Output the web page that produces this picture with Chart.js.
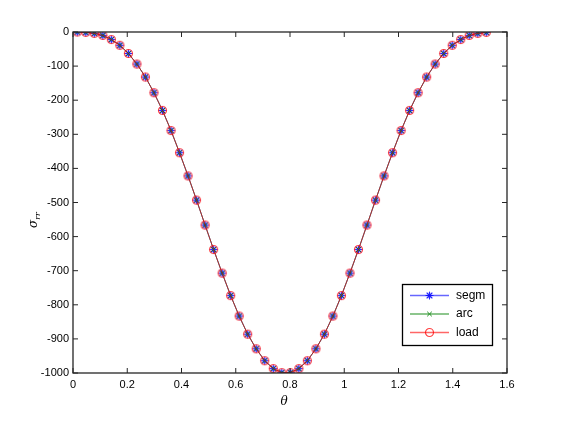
<!DOCTYPE html>
<html>
<head>
<meta charset="utf-8">
<script src="https://cdn.jsdelivr.net/npm/chart.js@4.4.0/dist/chart.umd.min.js"></script>
<style>
  html, body { margin: 0; padding: 0; background: #ffffff; }
  #c { display: block; }
</style>
</head>
<body>
<canvas id="c" width="561" height="429"></canvas>
<script>
// ---- data ----
const thetaValues = [0.0157, 0.0471, 0.0785, 0.1100, 0.1414, 0.1728, 0.2042, 0.2356, 0.2670, 0.2985,
  0.3299, 0.3613, 0.3927, 0.4241, 0.4555, 0.4869, 0.5184, 0.5498, 0.5812, 0.6126,
  0.6440, 0.6754, 0.7069, 0.7383, 0.7697, 0.8011, 0.8325, 0.8639, 0.8954, 0.9268,
  0.9582, 0.9896, 1.0210, 1.0524, 1.0838, 1.1153, 1.1467, 1.1781, 1.2095, 1.2409,
  1.2723, 1.3038, 1.3352, 1.3666, 1.3980, 1.4294, 1.4608, 1.4923, 1.5237];

const segmValues = [0, -1, -4, -10, -22, -39, -63, -94, -132, -178,
  -230, -289, -354, -422, -493, -566, -638, -707, -773, -833,
  -886, -929, -964, -987, -999, -999, -987, -964, -929, -886,
  -833, -773, -707, -638, -566, -493, -422, -354, -289, -230,
  -178, -132, -94, -63, -39, -22, -10, -4, -1];

const arcValues = [0, -1, -4, -10, -22, -39, -63, -94, -132, -178,
  -230, -289, -354, -422, -493, -566, -638, -707, -773, -833,
  -886, -929, -964, -987, -999, -999, -987, -964, -929, -886,
  -833, -773, -707, -638, -566, -493, -422, -354, -289, -230,
  -178, -132, -94, -63, -39, -22, -10, -4, -1];

const loadValues = [0, -1, -4, -10, -22, -39, -63, -94, -132, -178,
  -230, -289, -354, -422, -493, -566, -638, -707, -773, -833,
  -886, -929, -964, -987, -999, -999, -987, -964, -929, -886,
  -833, -773, -707, -638, -566, -493, -422, -354, -289, -230,
  -178, -132, -94, -63, -39, -22, -10, -4, -1];

const seriesNames = ['segm', 'arc', 'load'];
const xTickValues = [0, 0.2, 0.4, 0.6, 0.8, 1.0, 1.2, 1.4, 1.6];
const yTickValues = [-1000, -900, -800, -700, -600, -500, -400, -300, -200, -100, 0];

// ---- build ----
function pts(vals) { return thetaValues.map((t, i) => ({ x: t, y: vals[i] })); }

const FONT = '"Liberation Sans", Arial, Helvetica, sans-serif';

// pre-rendered marker glyphs
function marker(kind) {
  const S = 13, c = document.createElement('canvas');
  c.width = S; c.height = S;
  const g = c.getContext('2d');
  const m = S / 2;
  g.lineCap = 'round';
  if (kind === 'segm') {
    g.strokeStyle = 'rgba(0,0,255,0.85)'; g.lineWidth = 1.2;
    const r = 3.5;
    g.beginPath();
    for (let k = 0; k < 4; k++) {
      const ang = k * Math.PI / 4;
      g.moveTo(m - r * Math.cos(ang), m - r * Math.sin(ang));
      g.lineTo(m + r * Math.cos(ang), m + r * Math.sin(ang));
    }
    g.stroke();
  } else if (kind === 'arc') {
    g.strokeStyle = 'rgba(0,128,0,0.9)'; g.lineWidth = 1;
    const r = 2;
    g.beginPath();
    g.moveTo(m - r, m - r); g.lineTo(m + r, m + r);
    g.moveTo(m - r, m + r); g.lineTo(m + r, m - r);
    g.stroke();
  } else {
    g.strokeStyle = 'rgba(255,0,0,0.75)'; g.lineWidth = 1.2;
    g.beginPath();
    g.arc(m, m, 4, 0, Math.PI * 2);
    g.stroke();
  }
  return c;
}

const lineColors = { segm: 'rgba(0,0,255,0.6)', arc: 'rgba(0,128,0,0.6)', load: 'rgba(255,0,0,0.6)' };
const valuesByName = { segm: segmValues, arc: arcValues, load: loadValues };
const markers = { segm: marker('segm'), arc: marker('arc'), load: marker('load') };

function makeDataset(name) {
  return {
    label: name, data: pts(valuesByName[name]),
    borderColor: lineColors[name], borderWidth: 1, tension: 0,
    pointStyle: markers[name], pointRadius: 4, pointHoverRadius: 4
  };
}

const frameAndLegend = {
  id: 'frameAndLegend',
  afterDraw(chart) {
    const ctx = chart.ctx;
    const a = chart.chartArea;
    const xs = chart.scales.x, ys = chart.scales.y;
    ctx.save();
    ctx.strokeStyle = '#262626';
    ctx.lineWidth = 1.3;
    ctx.strokeRect(a.left, a.top, a.right - a.left, a.bottom - a.top);
    ctx.lineWidth = 1;
    ctx.beginPath();
    const tl = 5;
    xTickValues.forEach(v => {
      const px = xs.getPixelForValue(v);
      ctx.moveTo(px, a.bottom); ctx.lineTo(px, a.bottom - tl);
      ctx.moveTo(px, a.top); ctx.lineTo(px, a.top + tl);
    });
    yTickValues.forEach(v => {
      const py = ys.getPixelForValue(v);
      ctx.moveTo(a.left, py); ctx.lineTo(a.left + tl, py);
      ctx.moveTo(a.right, py); ctx.lineTo(a.right - tl, py);
    });
    ctx.stroke();

    ctx.fillStyle = '#000';
    ctx.textAlign = 'center';
    ctx.textBaseline = 'middle';
    ctx.font = 'italic 12px "DejaVu Serif", serif';
    ctx.fillText('\u03B8', 284, 402);

    ctx.save();
    ctx.translate(37, 228);
    ctx.rotate(-Math.PI / 2);
    ctx.textAlign = 'left';
    ctx.textBaseline = 'alphabetic';
    ctx.font = 'italic 12px "DejaVu Serif", serif';
    ctx.fillText('\u03C3', 0, 0);
    const w = ctx.measureText('\u03C3').width;
    ctx.font = 'italic 8px "DejaVu Serif", serif';
    ctx.fillText('rr', w, 2.5);
    ctx.restore();

    const bx = 402.5, by = 284.5, bw = 90, bh = 61;
    ctx.fillStyle = '#fff';
    ctx.fillRect(bx, by, bw, bh);
    ctx.strokeStyle = '#000';
    ctx.lineWidth = 1.3;
    ctx.strokeRect(bx, by, bw, bh);
    const rows = [295.5, 314, 332.5];
    seriesNames.forEach((name, i) => {
      const y = rows[i];
      ctx.strokeStyle = lineColors[name];
      ctx.lineWidth = 1.5;
      ctx.beginPath();
      ctx.moveTo(410, y); ctx.lineTo(449, y);
      ctx.stroke();
      const mk = markers[name];
      ctx.drawImage(mk, 429.5 - mk.width / 2, y - mk.height / 2);
      ctx.fillStyle = '#000';
      ctx.font = '12px ' + FONT;
      ctx.textAlign = 'left';
      ctx.textBaseline = 'middle';
      ctx.fillText(name, 456, y);
    });
    ctx.restore();
  }
};

new Chart(document.getElementById('c'), {
  type: 'line',
  data: {
    // first dataset is drawn on top, so 'load' comes first
    datasets: [makeDataset('load'), makeDataset('arc'), makeDataset('segm')]
  },
  options: {
    responsive: false,
    animation: false,
    events: [],
    layout: { padding: { top: 32, right: 54, left: 0, bottom: 0 } },
    plugins: { legend: { display: false }, tooltip: { enabled: false } },
    scales: {
      x: {
        type: 'linear', min: 0, max: 1.6,
        afterFit(s) { s.height = 56; },
        afterBuildTicks(s) { s.ticks = xTickValues.map(v => ({ value: v })); },
        grid: { display: false, drawTicks: false },
        border: { display: false },
        ticks: { color: '#000', padding: 5, font: { family: FONT, size: 11 },
          maxRotation: 0, autoSkip: false,
          callback: v => String(Math.round(v * 10) / 10) }
      },
      y: {
        type: 'linear', min: -1000, max: 0,
        afterFit(s) { s.width = 73; },
        afterBuildTicks(s) { s.ticks = yTickValues.map(v => ({ value: v })); },
        grid: { display: false, drawTicks: false },
        border: { display: false },
        ticks: { color: '#000', padding: 4, font: { family: FONT, size: 11 },
          autoSkip: false, callback: v => String(v) }
      }
    }
  },
  plugins: [frameAndLegend]
});
</script>
</body>
</html>
